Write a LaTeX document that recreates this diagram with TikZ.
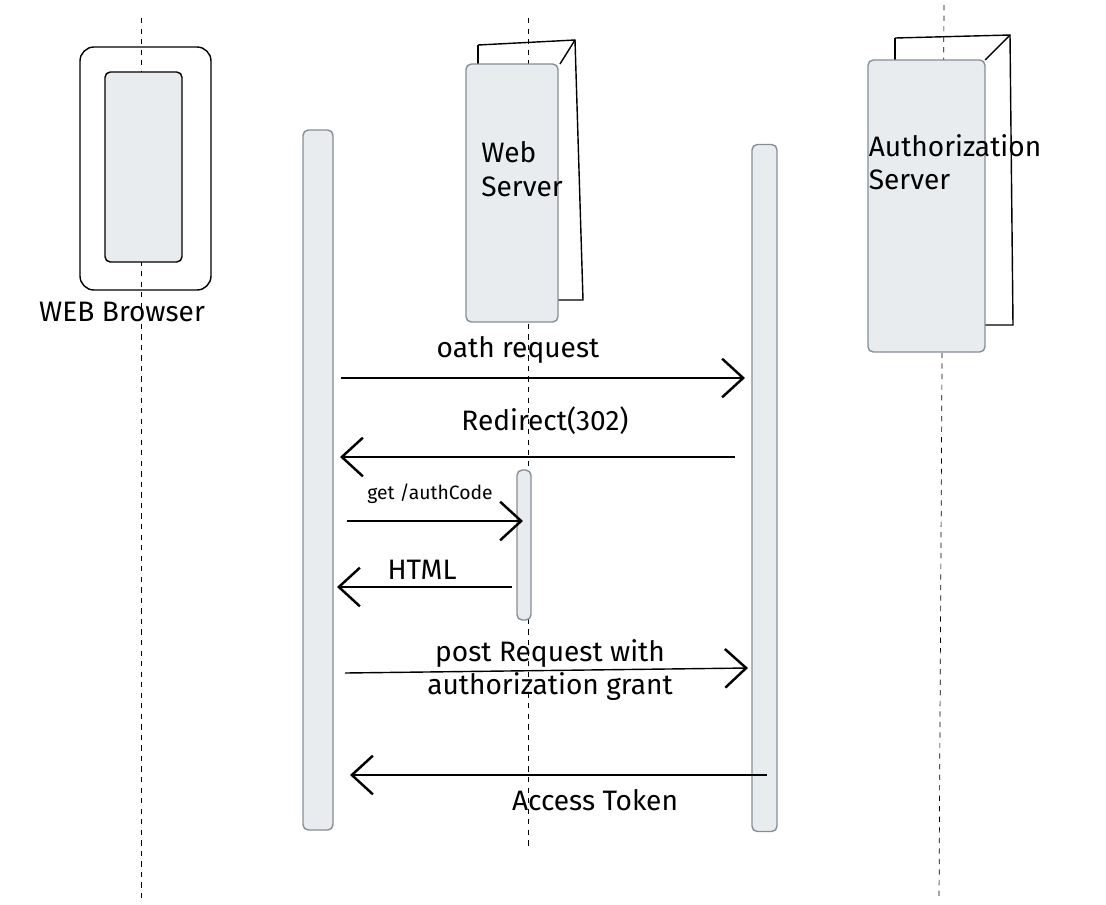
\documentclass[tikz,border=0pt]{standalone}
\usepackage{fontspec}
\setmainfont{Fira Sans}
\usetikzlibrary{arrows.meta}
\definecolor{boxfill}{HTML}{E9ECEF}
\definecolor{boxline}{HTML}{868E96}
\tikzset{
    life/.style = {dashed, thin},
    bar/.style = {draw=boxline, fill=boxfill, rounded corners=3pt, thick},
    msg/.style = {thick, -{Straight Barb[length=12pt, width=22pt, line width=1.4pt]}},
    lbl/.style = {font=\fontsize{16}{19}\selectfont, align=center},
}
\begin{document}
\begin{tikzpicture}[x=0.02cm, y=-0.02cm]
    \useasboundingbox (0,0) rectangle (1106,904);
    % lifelines
    \draw[life] (141,18) -- (141,900);
    \draw[life] (528,18) -- (528,850);
    \draw[life] (944,5) -- (939,900);
    % browser
    \draw[thick, rounded corners=8pt] (80,47) rectangle (211,290);
    \node[bar, draw=black, minimum width=77*0.02cm, minimum height=190*0.02cm] (browser) at (143.5,167) {};
    \node[lbl] (browserlbl) at (122,312) {WEB Browser};
    % web server
    \draw[thick] (478,45) -- (575,40) -- (583,300) -- (558,300);
    \draw[thick] (478,45) -- (478,64);
    \draw[thick] (560,64) -- (575,40);
    \node[bar, minimum width=92*0.02cm, minimum height=258*0.02cm] (web) at (512,193) {};
    \node[lbl, align=left] (weblbl) at (522,169) {Web\\Server};
    % authorization server
    \draw[thick] (895,38) -- (1010,35) -- (1013,325) -- (985,325);
    \draw[thick] (895,38) -- (895,60);
    \draw[thick] (985,60) -- (1010,35);
    \node[bar, minimum width=117*0.02cm, minimum height=292*0.02cm] (auth) at (926.5,206) {};
    \node[lbl, align=left] (authlbl) at (955,162) {Authorization\\Server};
    % activation bars
    \node[bar, minimum width=30*0.02cm, minimum height=700*0.02cm] (b1) at (318,480) {};
    \node[bar, minimum width=25*0.02cm, minimum height=687*0.02cm] (b2) at (764.5,488) {};
    \node[bar, minimum width=14*0.02cm, minimum height=150*0.02cm] (b3) at (524,545) {};
    % messages
    \coordinate (m1a) at (341,378);  \coordinate (m1b) at (745,378);
    \coordinate (m2a) at (735,457);  \coordinate (m2b) at (340,457);
    \coordinate (m3a) at (347,521);  \coordinate (m3b) at (523,521);
    \coordinate (m4a) at (512,587);  \coordinate (m4b) at (337,587);
    \coordinate (m5a) at (345,673);  \coordinate (m5b) at (748,668);
    \coordinate (m6a) at (767,775);  \coordinate (m6b) at (350,775);
    \draw[msg] (m1a) -- (m1b);
    \draw[msg] (m2a) -- (m2b);
    \draw[msg] (m3a) -- (m3b);
    \draw[msg] (m4a) -- (m4b);
    \draw[msg] (m5a) -- (m5b);
    \draw[msg] (m6a) -- (m6b);
    \node[lbl] (l1) at (518,350) {oath request};
    \node[lbl] (l2) at (545,421) {Redirect(302)};
    \node[lbl, font=\fontsize{11}{13}\selectfont] (l3) at (430,494) {get /authCode};
    \node[lbl] (l4) at (422,570) {HTML};
    \node[lbl] (l5) at (550,670) {post Request with\\authorization grant};
    \node[lbl] (l6) at (595,800) {Access Token};
\end{tikzpicture}
\end{document}
